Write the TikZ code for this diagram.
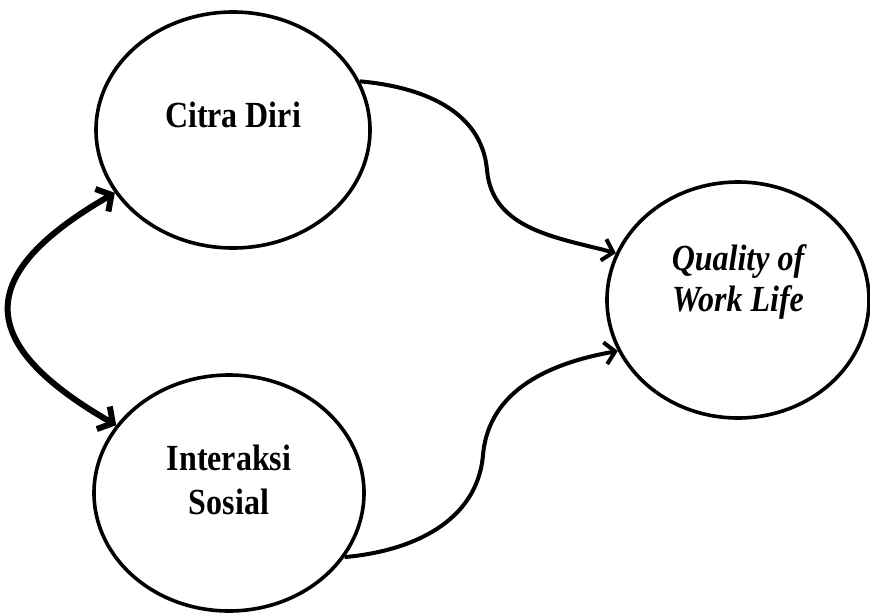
\documentclass[tikz,border=0pt]{standalone}
\usepackage{fontspec}
\setmainfont{Liberation Serif}
\usepackage{tikz}
\usetikzlibrary{positioning, arrows.meta, shapes.geometric}

\begin{document}
\begin{tikzpicture}[x=1pt, y=1pt,
    construct/.style={draw, ellipse, line width=3.6pt, inner sep=0pt, minimum height=236pt},
    lbl/.style={font=\fontsize{32}{38}\selectfont\bfseries, align=center, yscale=1.15, transform shape},
    effect/.style={line width=4pt, -{Straight Barb[length=10pt, width=22pt]}},
    corr/.style={line width=6pt, {Straight Barb[length=11pt, width=26pt]}-{Straight Barb[length=11pt, width=26pt]}}]
    \useasboundingbox (0,0) rectangle (870,-614);

    \node[construct, minimum width=274pt] (citra) at (233,-130) {};
    \node[construct, minimum width=270pt] (interaksi) at (229,-493) {};
    \node[construct, minimum width=262pt] (qwl) at (738,-300) {};

    \node[lbl] at ([yshift=15pt]citra.center) {Citra Diri};
    \node[lbl] at ([yshift=13pt]interaksi.center) {Interaksi\\Sosial};
    \node[lbl, font=\fontsize{32}{36}\selectfont\bfseries\itshape] at ([yshift=18pt]qwl.center) {Quality of\\Work Life};

    \coordinate (bendtop) at (487,-170);
    \coordinate (bendbot) at (483,-455);

    \draw[effect] (citra.21) to[out=-5, in=95] (bendtop) to[out=-85, in=165] (qwl.159);
    \draw[effect] (interaksi.-29) to[out=5, in=-95] (bendbot) to[out=85, in=190] (qwl.203);
    \draw[corr] (citra.208) to[out=210, in=150, looseness=1.8] (interaksi.149);
\end{tikzpicture}
\end{document}
